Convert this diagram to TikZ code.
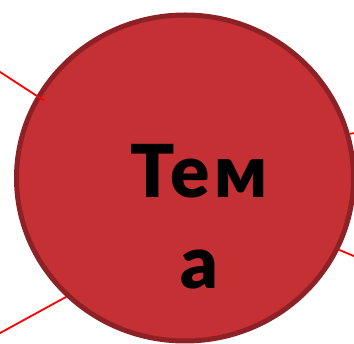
\documentclass[tikz,border=0pt]{standalone}
\usepackage{fontspec}
\setmainfont{Lato}[BoldFont={Lato Black}]
\usepackage{tikz}
\usetikzlibrary{positioning, shapes.geometric}

\definecolor{temafill}{RGB}{196,48,51}
\definecolor{temaedge}{RGB}{142,33,38}
\definecolor{linkred}{RGB}{255,0,0}

\begin{document}
\begin{tikzpicture}[
    x=1pt, y=-1pt,
    topic/.style={ellipse, draw=temaedge, fill=temafill, line width=5pt, minimum width=337pt, minimum height=326pt, inner sep=0pt},
    topictext/.style={align=center, font=\fontsize{73}{91}\selectfont\bfseries\addfontfeature{LetterSpace=6}, text=black, inner sep=0pt},
    link/.style={draw=linkred, line width=1.8pt},
]
\useasboundingbox (0,0) rectangle (354,344);

% ---- Central topic ----
\node[topic] (tema) at (185,178) {};
\node[topictext, anchor=base] (tematext) at (199,289) {Тем\\а};

% ---- Free ends of the links ----
\coordinate (ul) at (-5,68.7);
\coordinate (ll) at (-5,335.8);
\coordinate (ur) at (365,131.4);
\coordinate (lr) at (365,260.7);

% ---- Links ----
\draw[link, shorten >=-9pt] (ul) -- (tema.151.5);
\draw[link] (ll) -- (tema.225);
\draw[link] (ur) -- (tema.15.5);
\draw[link] (lr) -- (tema.335.2);

\end{tikzpicture}
\end{document}
